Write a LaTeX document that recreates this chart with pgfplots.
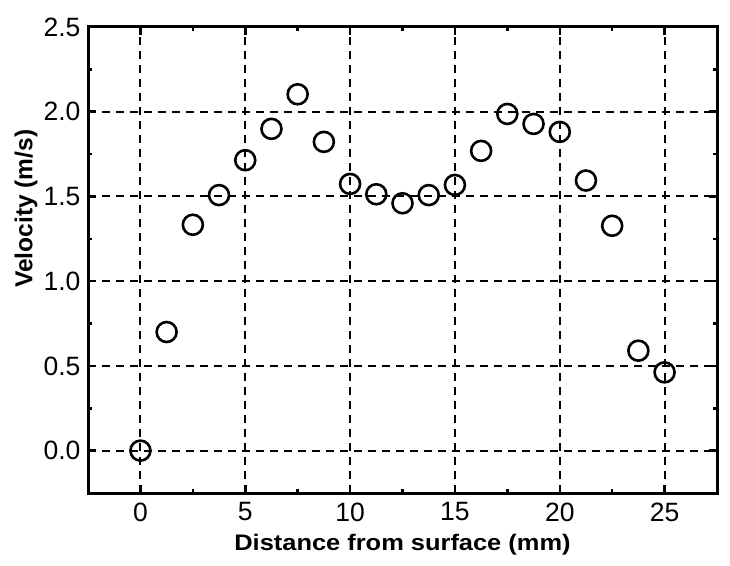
\documentclass[border=0pt]{standalone}
\usepackage{pgfplots}
\pgfplotsset{compat=1.18}
\usepackage{fontspec}
\setmainfont{Liberation Sans}
\begin{document}
\begin{tikzpicture}
\path[use as bounding box] (-88pt,-72pt) rectangle (642pt,493pt);
\begin{axis}[
  at={(0,0)}, anchor=south west,
  scale only axis, width=629pt, height=466pt,
  xmin=-2.5, xmax=27.5, ymin=-0.25, ymax=2.5,
  xtick={0,5,...,25}, ytick={0,0.5,...,2.5},
  minor x tick num=1, minor y tick num=1,
  tick align=inside, tick pos=both,
  major tick length=8pt, minor tick length=4pt,
  every tick/.style={black, line width=2.5pt},
  axis line style={line width=3pt},
  grid=major,
  major grid style={black, line width=2pt, dash pattern=on 8pt off 6pt},
  /pgf/number format/assume math mode=true,
  ticklabel style={font=\fontsize{26.5}{30}\selectfont},
  xticklabel style={yshift=-6pt},
  yticklabel style={xshift=-4pt, /pgf/number format/fixed, /pgf/number format/fixed zerofill, /pgf/number format/precision=1},
  xlabel={\scalebox{1.13}[1]{Distance from surface (mm)}},
  ylabel={Velocity (m/s)},
  every axis x label/.style={at={(axis description cs:0.5,-0.1116)}, anchor=center, font=\fontsize{22.5}{26}\bfseries},
  every axis y label/.style={at={(axis description cs:-0.0986,0.61)}, anchor=center, rotate=90, font=\fontsize{24.5}{28}\bfseries},
]
\addplot[only marks, mark=o, mark size=10pt, line width=2.6pt, mark options={fill=white, draw=black}] coordinates {
(0,0.0) (1.25,0.70) (2.5,1.333) (3.75,1.508) (5,1.714) (6.25,1.899) (7.5,2.103)
(8.75,1.822) (10,1.574) (11.25,1.513) (12.5,1.460) (13.75,1.508) (15,1.568)
(16.25,1.769) (17.5,1.987) (18.75,1.928) (20,1.881) (21.25,1.594) (22.5,1.327)
(23.75,0.590) (25,0.462)
};
\end{axis}
\end{tikzpicture}
\end{document}
